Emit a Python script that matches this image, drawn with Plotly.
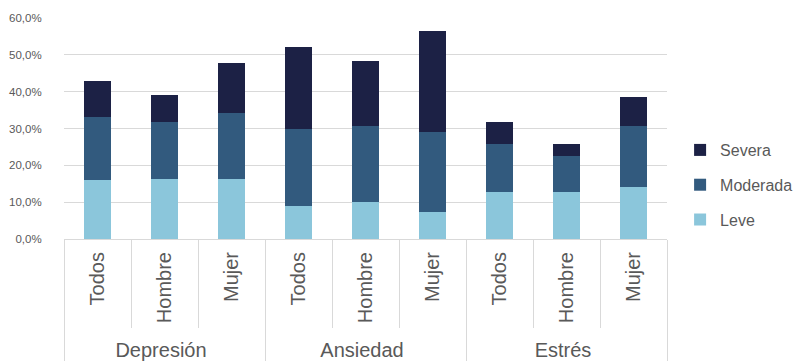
import plotly.graph_objects as go

groups = ["Depresión"] * 3 + ["Ansiedad"] * 3 + ["Estrés"] * 3
subcats = ["Todos", "Hombre", "Mujer"] * 3

leve = [0.159, 0.164, 0.164, 0.089, 0.101, 0.074, 0.128, 0.128, 0.140]
moderada = [0.171, 0.155, 0.178, 0.209, 0.205, 0.217, 0.131, 0.098, 0.166]
severa = [0.100, 0.071, 0.135, 0.222, 0.178, 0.273, 0.060, 0.031, 0.080]

series = [("Leve", leve, "#8BC6DB", 3), ("Moderada", moderada, "#325A7E", 2),
          ("Severa", severa, "#1C2145", 1)]

fig = go.Figure()
for name, vals, col, rank in series:
    fig.add_trace(go.Bar(x=[groups, subcats], y=vals, name=name, marker_color=col,
                         marker_line_width=0, legendgroup=name, legendrank=rank))
# invisible twin trace that only carries the overlay axis used for the inner divider ticks
fig.add_trace(go.Bar(x=[groups, subcats], y=leve, xaxis="x2", marker_opacity=0,
                     showlegend=False, hoverinfo="skip"))

font = "Liberation Sans, Arial, sans-serif"
grid = "#D9D9D9"
fig.update_layout(
    template="none",
    barmode="stack", bargap=0.6,
    width=802, height=361,
    margin=dict(l=64, r=135, t=18, b=122),
    plot_bgcolor="white", paper_bgcolor="white",
    separators=",.",
    font=dict(family=font, color="#595959", size=13),
    legend=dict(traceorder="grouped", xref="container", yref="container", x=0.848,
                xanchor="left", y=0.4875, yanchor="middle",
                font=dict(size=16, color="#595959"), tracegroupgap=11),
    xaxis=dict(type="multicategory", tickangle=-90, showdividers=True, dividercolor=grid,
               dividerwidth=1, ticks="", showline=True, linecolor=grid, showgrid=False,
               automargin=False, ticklabelstandoff=4, tickfont=dict(size=20, color="#595959")),
    xaxis2=dict(type="multicategory", overlaying="x", anchor="y", side="bottom", ticks="outside",
                ticklen=88, tickcolor=grid, tickson="boundaries", showticklabels=False,
                showdividers=False, showgrid=False, showline=False, automargin=False),
    yaxis=dict(range=[0, 0.6], dtick=0.1, tickformat=".1%", showgrid=True, gridcolor=grid,
               gridwidth=1, zeroline=False, showline=False, ticks="outside", ticklen=19,
               tickcolor="rgba(0,0,0,0)", automargin=False,
               tickfont=dict(size=11.5, color="#595959")),
)
fig.write_html("out.html")
